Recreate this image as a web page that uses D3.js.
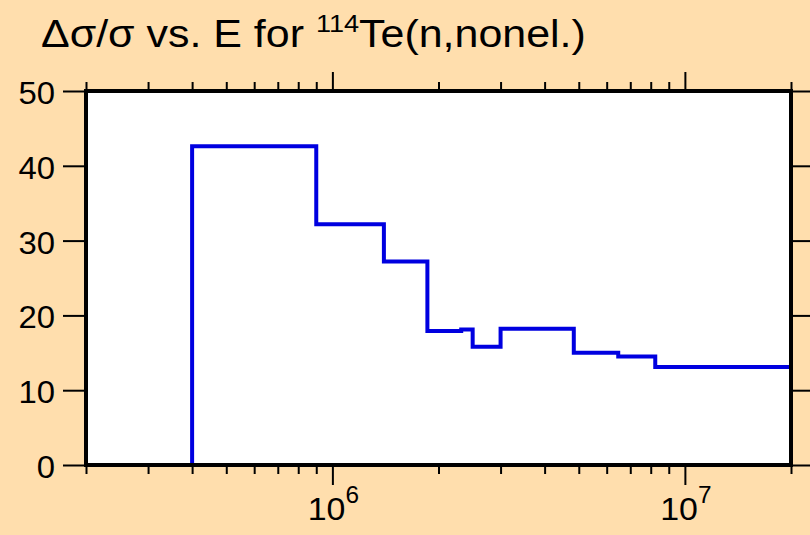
<!DOCTYPE html>
<html>
<head>
<meta charset="utf-8">
<script src="https://cdn.jsdelivr.net/npm/d3@7"></script>
<style>
  html, body { margin: 0; padding: 0; background: #FFDEAD; }
  svg { display: block; }
  text { font-family: "Liberation Sans", Arial, sans-serif; fill: #000; }
</style>
</head>
<body>
<div id="chart"></div>
<script>
// bin edges (eV) and relative uncertainty (%) of each bin
var edges = [4e5, 9e5, 1.4e6, 1.86e6, 2.32e6, 2.5e6, 3e6, 4.84e6, 6.47e6, 8.24e6, 2e7];
var values = [42.6, 32.2, 27.2, 17.9, 18.1, 15.8, 18.2, 15.0, 14.5, 13.1];

var yTicks = [0, 10, 20, 30, 40, 50];
var xMajor = [1e6, 1e7];
var xMajorExp = ["6", "7"];

var width = 810,
    height = 535;
var plotLeft = 86, plotRight = 791, plotTop = 91, plotBottom = 465;
var sx = 1.06; // glyphs in the picture are a bit wide

var svg = d3.select("#chart")
  .append("svg")
    .attr("width", width)
    .attr("height", height);

var x = d3.scaleLog().domain([2e5, 2e7]).range([plotLeft, plotRight]);
var y = d3.scaleLinear().domain([0, 50]).range([plotBottom, plotTop]);

// plot area
svg.append("rect")
  .attr("x", plotLeft).attr("y", plotTop)
  .attr("width", plotRight - plotLeft).attr("height", plotBottom - plotTop)
  .attr("fill", "#fff");

// histogram as a step line
var pts = [[edges[0], 0]];
for (var i = 0; i < values.length; i++) {
  pts.push([edges[i], values[i]]);
}
pts.push([edges[edges.length - 1], 0]);

var line = d3.line()
  .x(function(d) { return x(d[0]); })
  .y(function(d) { return y(d[1]); })
  .curve(d3.curveStepAfter);

svg.append("path")
  .datum(pts)
  .attr("d", line)
  .attr("fill", "none")
  .attr("stroke", "#0000e0")
  .attr("stroke-width", 4)
  .attr("stroke-linejoin", "miter");

// ticks
var minor = x.ticks().filter(function(t) { return xMajor.indexOf(t) < 0; });

function tickAxis(axis, transform) {
  var g = svg.append("g").attr("transform", transform).call(axis);
  g.select(".domain").remove();
  g.selectAll(".tick line").attr("stroke", "#000").attr("stroke-width", 2);
  g.selectAll(".tick text").remove();
  return g;
}

tickAxis(d3.axisBottom(x).tickValues(minor).tickSize(9), "translate(0," + plotBottom + ")");
tickAxis(d3.axisBottom(x).tickValues(xMajor).tickSize(20), "translate(0," + plotBottom + ")");
tickAxis(d3.axisTop(x).tickValues(minor).tickSize(9), "translate(0," + plotTop + ")");
tickAxis(d3.axisTop(x).tickValues(xMajor).tickSize(19), "translate(0," + plotTop + ")");
tickAxis(d3.axisLeft(y).tickValues(yTicks).tickSize(23), "translate(" + plotLeft + ",0)");
tickAxis(d3.axisRight(y).tickValues(yTicks).tickSize(22), "translate(" + plotRight + ",0)");

// frame
svg.append("rect")
  .attr("x", plotLeft).attr("y", plotTop)
  .attr("width", plotRight - plotLeft).attr("height", plotBottom - plotTop)
  .attr("fill", "none")
  .attr("stroke", "#000")
  .attr("stroke-width", 4);

// y labels
svg.selectAll(".ylab")
  .data(yTicks)
  .enter()
  .append("text")
    .attr("class", "ylab")
    .attr("transform", function(d) { return "translate(55," + (y(d) + 13) + ") scale(" + sx + ",1)"; })
    .attr("text-anchor", "end")
    .attr("font-size", 31)
    .text(function(d) { return d; });

// x labels 10^n
xMajor.forEach(function(v, i) {
  var t = svg.append("text")
    .attr("font-size", 32);
  t.append("tspan").text("10");
  t.append("tspan").attr("font-size", 23).attr("dy", -17).text(xMajorExp[i]);
  var w = t.node().getBBox().width;
  t.attr("transform", "translate(" + (x(v) + 1 - w * sx / 2) + ",520) scale(" + sx + ",1)");
});

// title
var title = svg.append("text").attr("font-size", 38);
title.append("tspan").text("\u0394\u03c3/\u03c3 vs. E for ");
title.append("tspan").attr("font-size", 24).attr("dy", -15).text("114");
title.append("tspan").attr("dy", 15).text("Te(n,nonel.)");
var tw = title.node().getBBox().width;
title.attr("transform", "translate(41,47) scale(" + (545 / tw) + ",1)");
</script>
</body>
</html>
